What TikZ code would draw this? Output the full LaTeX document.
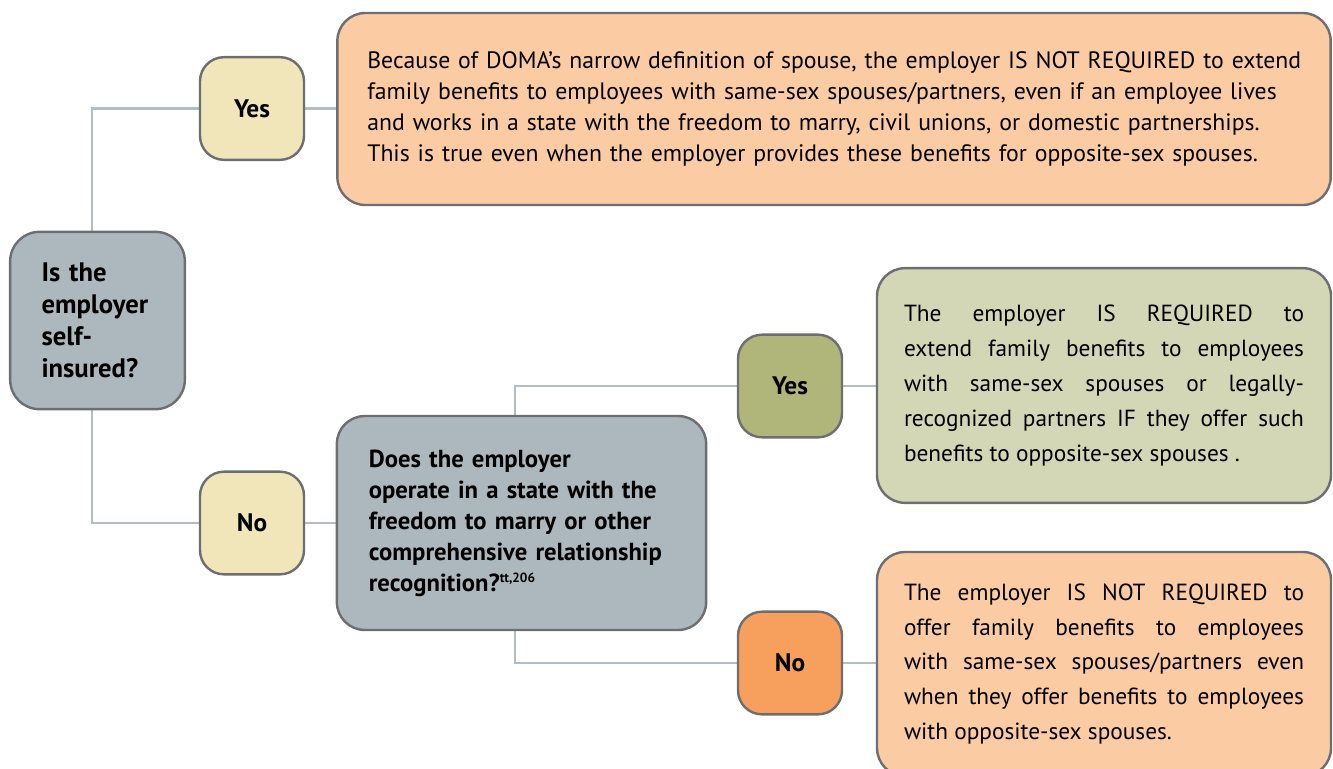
\documentclass[tikz,border=0pt]{standalone}
\usepackage{fontspec}
\setmainfont{PT Sans}
\usetikzlibrary{positioning,backgrounds}
\definecolor{bordergray}{HTML}{6D6E71}
\definecolor{linegray}{HTML}{B3BDC4}
\definecolor{peach}{HTML}{FBCBA3}
\definecolor{cream}{HTML}{F1E6BA}
\definecolor{slate}{HTML}{ADB8BE}
\definecolor{olive}{HTML}{B0B57A}
\definecolor{sage}{HTML}{D3D7B5}
\definecolor{tangerine}{HTML}{F7A05E}
\tikzset{
  box/.style={draw=bordergray, line width=1.8pt, rounded corners=21pt, inner sep=0pt},
  tag/.style={box, rounded corners=18pt, minimum width=78pt, minimum height=77pt,
    font=\fontsize{19}{22}\selectfont\bfseries},
  conn/.style={draw=linegray, line width=1.9pt},
}
\begin{document}
\begin{tikzpicture}[x=0.75pt,y=-0.75pt]
\useasboundingbox (0,0) rectangle (1333,768);
% boxes
\node[box, fill=peach, minimum width=745pt, minimum height=144pt,
  text width=700pt, align=left, font=\fontsize{17.8}{23.25}\selectfont]
  (top) at (834,109)
  {\mbox{Because of DOMA’s narrow definition of spouse, the employer IS NOT REQUIRED to extend}\\
   \mbox{family benefits to employees with same-sex spouses/partners, even if an employee lives}\\
   \mbox{and works in a state with the freedom to marry, civil unions, or domestic partnerships.}\\
   \mbox{This is true even when the employer provides these benefits for opposite-sex spouses.}};
\node[tag, fill=cream] (yes1) at (252,108.5) {Yes};
\node[box, fill=slate, rounded corners=22pt, minimum width=131pt, minimum height=133pt,
  text width=84pt, align=left, font=\fontsize{20}{24}\selectfont\bfseries]
  (q1) at (97.5,320.5) {Is the\\ employer\\ self-\\ insured?};
\node[tag, fill=cream] (no1) at (252,523) {No};
\node[box, fill=slate, minimum width=277pt, minimum height=160.5pt,
  text width=229pt, align=left, font=\fontsize{18.5}{23.25}\selectfont\bfseries]
  (q2) at (521.5,523)
  {Does the employer\\ operate in a state with the\\ freedom to marry or other\\
   comprehensive relationship\\ recognition?\textsuperscript{\fontsize{10}{10}\selectfont tt,206}};
\node[tag, fill=olive] (yes2) at (790,386) {Yes};
\node[tag, fill=tangerine] (no2) at (790,663) {No};
\node[box, fill=sage, minimum width=340.5pt, minimum height=176pt,
  text width=300pt, align=justify, font=\fontsize{17.5}{26.25}\selectfont]
  (req) at (1104,385.5)
  {The employer IS REQUIRED to\linebreak
   extend family benefits to employees\linebreak
   with same-sex spouses or legally-\linebreak
   recognized partners IF they offer such\linebreak
   benefits to opposite-sex spouses .\par\vspace{10pt}};
\node[box, fill=peach, minimum width=340.5pt, minimum height=168pt,
  text width=300pt, align=justify, font=\fontsize{17.5}{26}\selectfont]
  (notreq) at (1104,664)
  {The employer IS NOT REQUIRED to\linebreak
   offer family benefits to employees\linebreak
   with same-sex spouses/partners even\linebreak
   when they offer benefits to employees\linebreak
   with opposite-sex spouses.};
% connectors
\begin{scope}[on background layer]
\draw[conn] ([xshift=-4pt]q1.north) |- (yes1.west);
\draw[conn] (yes1.east) -- (yes1.east -| top.west);
\draw[conn] ([xshift=-4pt]q1.south) |- (no1.west);
\draw[conn] (no1.east) -- (no1.east -| q2.west);
\draw[conn] ([xshift=-5pt]q2.north) |- (yes2.west);
\draw[conn] (yes2.east) -- (yes2.east -| req.west);
\draw[conn] ([xshift=-5pt]q2.south) |- (no2.west);
\draw[conn] (no2.east) -- (no2.east -| notreq.west);
\end{scope}
\end{tikzpicture}
\end{document}
